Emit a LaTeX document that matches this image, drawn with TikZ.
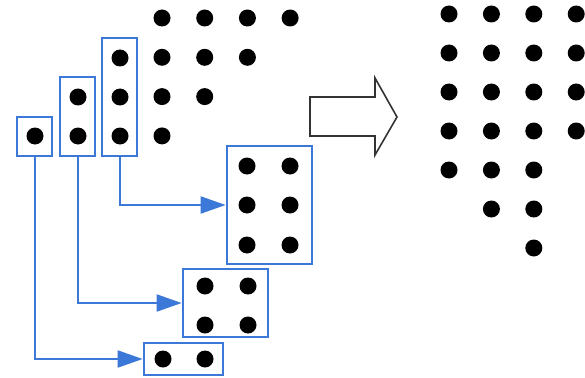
\documentclass[tikz,border=0pt]{standalone}
\usetikzlibrary{arrows.meta,positioning}
\definecolor{wire}{HTML}{3B78D8}
\definecolor{outline}{HTML}{333333}

\begin{document}
\begin{tikzpicture}[x=1pt,y=-1pt,dot/.style={circle,fill=black,inner sep=0pt,minimum size=17pt},
box/.style={draw=wire,line width=2.7pt,inner sep=0pt},link/.style={-{Triangle[length=25pt,width=17pt]},draw=wire,line width=2pt},
bigarrow/.style={draw=outline,line width=1.6pt,fill=white}]
\useasboundingbox (0,0) rectangle (585,377);
% triangle of dots, left
\foreach \r in {0,...,3}{
  \pgfmathtruncatemacro{\last}{3-\r}
  \foreach \c in {0,...,\last}
    \node[dot] (tri-\r-\c) at ({162+42.7*\c},{18+39.3*\r}) {};
}
% columns cut out of the triangle
\node[box,minimum width=35pt,minimum height=39pt] (colA) at (34.5,136.5) {};
\node[box,minimum width=35pt,minimum height=79pt] (colB) at (77.5,116.5) {};
\node[box,minimum width=35pt,minimum height=118pt] (colC) at (119.5,97) {};
\node[dot] (a1) at (35,136) {};
\foreach \y [count=\i] in {97,136} \node[dot] (b\i) at (78,\y) {};
\foreach \y [count=\i] in {58,97,136} \node[dot] (c\i) at (120,\y) {};
% regrouped blocks
\node[box,minimum width=85pt,minimum height=118pt] (grpD) at (269.5,205) {};
\node[box,minimum width=85pt,minimum height=68pt] (grpE) at (225.5,303) {};
\node[box,minimum width=79pt,minimum height=32pt] (grpF) at (183.5,359) {};
\foreach \y [count=\i] in {166,205,245}{
  \node[dot] (d\i l) at (247,\y) {};
  \node[dot] (d\i r) at (290,\y) {};
}
\foreach \y [count=\i] in {286,325}{
  \node[dot] (e\i l) at (205,\y) {};
  \node[dot] (e\i r) at (248,\y) {};
}
\node[dot] (f1l) at (163,359) {};
\node[dot] (f1r) at (205,359) {};
\draw[link] (colC.south) |- (grpD.west);
\draw[link] (colB.south) |- (grpE.west);
\draw[link] (colA.south) |- (grpF.west);
% hollow arrow
\draw[bigarrow] (310,97) -- (375,97) -- (375,78) -- (397,117) -- (375,155) -- (375,136) -- (310,136) -- cycle;
% result, right
\foreach \r/\first/\last in {0/0/3,1/0/3,2/0/3,3/0/3,4/0/2,5/1/2,6/2/2}
  \foreach \c in {\first,...,\last}
    \node[dot] (res-\r-\c) at ({449+42.4*\c},{14+39*\r}) {};
\end{tikzpicture}
\end{document}
